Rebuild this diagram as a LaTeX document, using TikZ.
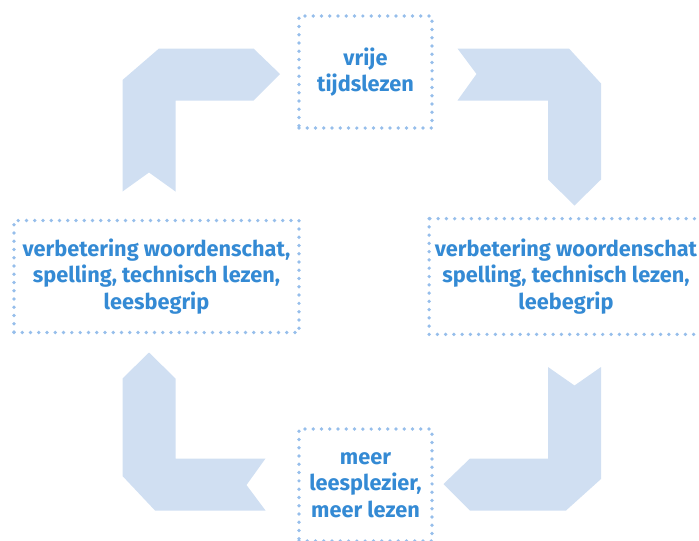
\documentclass[tikz,border=0pt]{standalone}
\usepackage{fontspec}
\setmainfont{Fira Sans}
\usepackage{tikz}

\definecolor{bandblue}{RGB}{208,223,242}
\definecolor{dotblue}{RGB}{150,190,235}
\definecolor{textblue}{RGB}{52,138,212}

\tikzset{
  dotline/.style={draw=dotblue, line width=2.8pt, line cap=round,
    dash pattern=on 0pt off 6.2pt},
  box/.style={rectangle, dotline, inner sep=0pt, align=center,
    font=\fontsize{16.3}{20}\selectfont\bfseries, text=textblue},
  band/.style={fill=bandblue, draw=none}
}

\begin{document}
\begin{tikzpicture}[x=0.75pt, y=-0.75pt]
\useasboundingbox (0,0) rectangle (699,540);

  % Define nodes
\node[box, minimum width=99.75pt, minimum height=84pt] (vrij) at (365.5,72) {vrije\\tijdslezen};
\node[box, minimum width=213.75pt, minimum height=84pt] (links) at (156.5,276.5) {verbetering woordenschat,\\spelling, technisch lezen,\\leesbegrip};
\node[box, draw=none, minimum width=202.5pt, minimum height=84pt] (rechts) at (566,276.5) {verbetering woordenschat\\spelling, technisch lezen,\\leebegrip};
\node[box, minimum width=99.75pt, minimum height=84pt] (plezier) at (365.5,485) {meer\\leesplezier,\\meer lezen};

  % right box runs off the page
\path[dotline] (rechts.north west) rectangle ([xshift=12pt]rechts.south east);

  % Arrows
\fill[band] (122.5,80) -- (159,48.5) -- (253.5,48.5) -- (280,74) -- (253.5,100.5)
  -- (175.5,100.5) -- (175.5,191.5) -- (149,172.5) -- (122.5,191.5) -- cycle;
\fill[band] (457.5,48.5) -- (569,48.5) -- (601,83.5) -- (601,179.5) -- (574.5,205.5)
  -- (548,179.5) -- (548,100.5) -- (457.5,100.5) -- (476.5,74) -- cycle;
\fill[band] (548,367) -- (574.5,385.5) -- (601,367) -- (601,479) -- (566,510.5)
  -- (470,510.5) -- (443.5,484) -- (470,458.5) -- (548,458.5) -- cycle;
\fill[band] (149,352.5) -- (175.5,378.5) -- (175.5,458.5) -- (265.5,458.5) -- (246.5,485)
  -- (265.5,510.5) -- (155,510.5) -- (122.5,476) -- (122.5,378.5) -- cycle;

\end{tikzpicture}
\end{document}
